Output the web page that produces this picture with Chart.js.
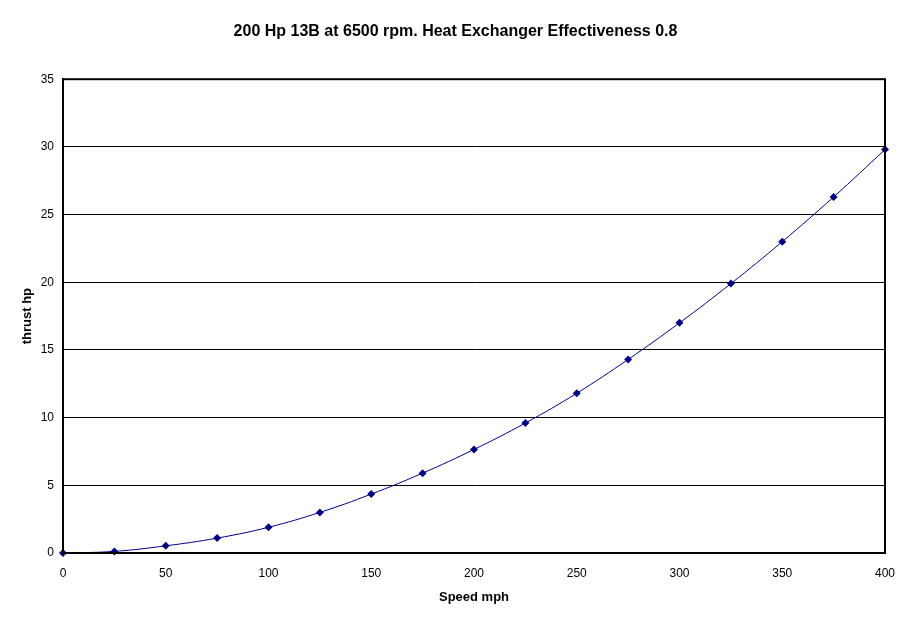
<!DOCTYPE html>
<html>
<head>
<meta charset="utf-8">
<script src="https://cdn.jsdelivr.net/npm/chart.js@4/dist/chart.umd.min.js"></script>
<style>
  html, body { margin: 0; padding: 0; background: #fff; }
  #wrap { width: 911px; height: 623px; }
</style>
</head>
<body>
<div id="wrap"><canvas id="chartThrust"></canvas></div>
<script>
// speed (mph) and thrust (hp)
var speedMph = [0, 25, 50, 75, 100, 125, 150, 175, 200, 225, 250, 275, 300, 325, 350, 375, 400];
var thrustHp = [0, 0.12, 0.53, 1.1, 1.9, 3.0, 4.35, 5.9, 7.65, 9.6, 11.8, 14.3, 17.0, 19.9, 23.0, 26.3, 29.8];

var chartTitle = "200 Hp 13B at 6500 rpm. Heat Exchanger Effectiveness 0.8";
var xTitle = "Speed mph";
var yTitle = "thrust hp";

var navy = "#000080";
var fontFamily = "'Liberation Sans', Arial, sans-serif";

var points = speedMph.map(function (s, i) {
    return { x: s, y: thrustHp[i] };
});

// black box round the plot area
var frame = {
    id: "frame",
    afterDraw: function (chart) {
        var a = chart.chartArea, ctx = chart.ctx;
        ctx.save();
        ctx.strokeStyle = "#000";
        ctx.lineWidth = 2;
        ctx.strokeRect(a.left, a.top, a.right - a.left, a.bottom - a.top);
        ctx.restore();
    }
};

var myChartThrust = new Chart(document.getElementById("chartThrust").getContext("2d"), {
    type: "line",
    data: {
        datasets: [{
            data: points,
            borderColor: navy,
            backgroundColor: navy,
            borderWidth: 1,
            tension: 0.4,
            pointStyle: "rectRot",
            pointRadius: 4,
            pointBorderWidth: 0,
            pointBackgroundColor: navy,
            clip: false
        }]
    },
    options: {
        responsive: true,
        maintainAspectRatio: false,
        animation: false,
        layout: { padding: 0 },
        plugins: {
            legend: { display: false },
            tooltip: { enabled: false },
            title: {
                display: true,
                text: chartTitle,
                color: "#000",
                font: { family: fontFamily, size: 16, weight: "bold", lineHeight: 1.2 },
                padding: { top: 22, bottom: 38 }
            }
        },
        scales: {
            x: {
                type: "linear",
                min: 0,
                max: 400,
                ticks: {
                    stepSize: 50,
                    color: "#000",
                    padding: 13,
                    maxRotation: 0,
                    font: { family: fontFamily, size: 12 }
                },
                grid: { display: false, drawTicks: false },
                border: { display: true, color: "#000", width: 2 },
                title: {
                    display: true,
                    text: xTitle,
                    color: "#000",
                    font: { family: fontFamily, size: 13, weight: "bold", lineHeight: 1.2 },
                    padding: { top: 0, bottom: 18 }
                },
                afterFit: function (scale) { scale.height = 70; }
            },
            y: {
                min: 0,
                max: 35,
                ticks: {
                    stepSize: 5,
                    color: "#000",
                    padding: 9,
                    font: { family: fontFamily, size: 12 }
                },
                grid: { color: "#000", lineWidth: 1, drawTicks: false },
                border: { display: true, color: "#000", width: 2 },
                title: {
                    display: true,
                    text: yTitle,
                    color: "#000",
                    font: { family: fontFamily, size: 13, weight: "bold", lineHeight: 1.2 },
                    padding: { top: 20, bottom: 0 }
                },
                afterFit: function (scale) { scale.width = 63; }
            },
            // empty right axis, only keeps the margin so the title stays centred on the page
            yRight: {
                position: "right",
                min: 0,
                max: 35,
                ticks: { display: false },
                grid: { display: false, drawTicks: false },
                border: { display: false },
                afterFit: function (scale) { scale.width = 26; }
            }
        }
    },
    plugins: [frame]
});
</script>
</body>
</html>
